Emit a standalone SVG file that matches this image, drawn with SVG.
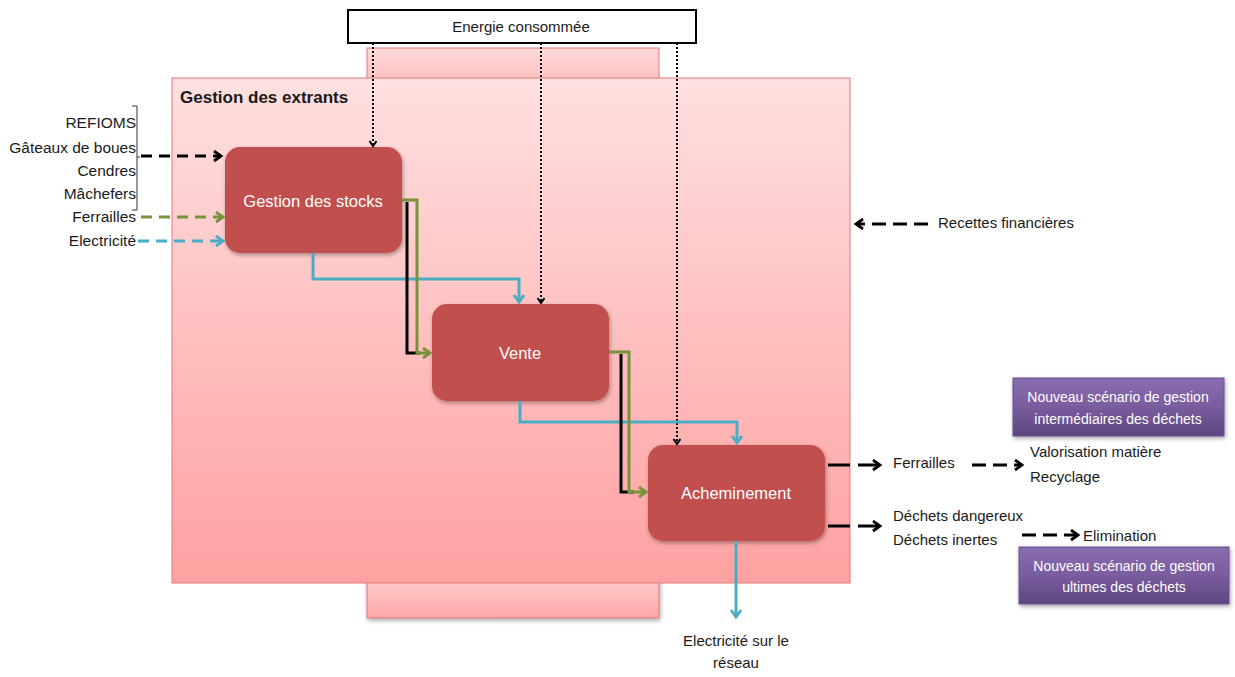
<svg xmlns="http://www.w3.org/2000/svg" width="1235" height="677" viewBox="0 0 1235 677">
<style>
text{font-family:"Liberation Sans",Arial,sans-serif;fill:#1a1a1a;font-size:15px}
.l{font-size:15.5px}
.w{fill:#fff;font-size:16.5px}
.pw{fill:#fff;font-size:14px}
.node{fill:#c0504d;filter:url(#sh)}
.dash{fill:none;stroke-width:3;stroke-dasharray:11 7}
.dot{fill:none;stroke:#000;stroke-width:2;stroke-dasharray:2 2}
.solid{fill:none;stroke-width:3}
.k{stroke:#000}.g{stroke:#77933c}.b{stroke:#4bacc6}
</style>
<defs>
<linearGradient id="pg" x1="0" y1="0" x2="0" y2="1"><stop offset="0" stop-color="#ffe0e0"/><stop offset="1" stop-color="#ffa1a1"/></linearGradient>
<linearGradient id="pgt" x1="0" y1="0" x2="0" y2="1"><stop offset="0" stop-color="#ffd8d8"/><stop offset="1" stop-color="#ffbcbc"/></linearGradient>
<linearGradient id="pgb" x1="0" y1="0" x2="0" y2="1"><stop offset="0" stop-color="#ffd4d4"/><stop offset="1" stop-color="#ffa6a6"/></linearGradient>
<linearGradient id="vg" x1="0" y1="0" x2="0" y2="1"><stop offset="0" stop-color="#8a6db0"/><stop offset="0.5" stop-color="#7a5c9e"/><stop offset="1" stop-color="#5e4580"/></linearGradient>
<filter id="sh" x="-10%" y="-10%" width="130%" height="140%"><feDropShadow dx="1" dy="2" stdDeviation="2" flood-color="#000" flood-opacity="0.35"/></filter>
<marker id="ak" markerUnits="userSpaceOnUse" markerWidth="14" markerHeight="14" refX="10" refY="6" orient="auto"><path d="M3,1 L10,6 L3,11" fill="none" stroke="#000" stroke-width="2.8"/></marker>
<marker id="ag" markerUnits="userSpaceOnUse" markerWidth="14" markerHeight="14" refX="10" refY="6" orient="auto"><path d="M3,1 L10,6 L3,11" fill="none" stroke="#77933c" stroke-width="2.8"/></marker>
<marker id="ab" markerUnits="userSpaceOnUse" markerWidth="14" markerHeight="14" refX="10" refY="6" orient="auto"><path d="M3,1 L10,6 L3,11" fill="none" stroke="#4bacc6" stroke-width="2.8"/></marker>
<marker id="ad" markerUnits="userSpaceOnUse" markerWidth="10" markerHeight="10" refX="7" refY="4" orient="auto"><path d="M2,0.5 L7,4 L2,7.5" fill="none" stroke="#000" stroke-width="2"/></marker>
</defs>

<g id="back-panel">
<rect x="367" y="48" width="292" height="40" fill="url(#pgt)" stroke="#e07878" stroke-width="1"/>
<rect x="367" y="573" width="292" height="45" fill="url(#pgb)" stroke="#e07878" stroke-width="1" filter="url(#sh)"/>
</g>
<g id="gestion-extrants">
<rect x="172" y="78" width="678" height="505" fill="url(#pg)" stroke="#e07878" stroke-width="1"/>
<text x="180" y="103" style="font-weight:bold;font-size:17px">Gestion des extrants</text>
</g>

<g id="energie">
<rect x="348" y="10" width="348" height="33" fill="#fff" stroke="#000" stroke-width="2"/>
<text x="521" y="32" text-anchor="middle">Energie consommée</text>
</g>

<g id="inputs">
<text class="l" x="136" y="128" text-anchor="end">REFIOMS</text>
<text class="l" x="136" y="153" text-anchor="end">Gâteaux de boues</text>
<text class="l" x="136" y="176" text-anchor="end">Cendres</text>
<text class="l" x="136" y="199" text-anchor="end">Mâchefers</text>
<text class="l" x="136" y="222" text-anchor="end">Ferrailles</text>
<text class="l" x="136" y="246" text-anchor="end">Electricité</text>
<path d="M132,106 H137 V210 H132 M137,157 H140" fill="none" stroke="#333" stroke-width="1"/>
</g>

<g id="node-stocks">
<rect class="node" x="225" y="147" width="177" height="106" rx="15"/>
<text class="w" x="313" y="207" text-anchor="middle">Gestion des stocks</text>
</g>
<g id="node-vente">
<rect class="node" x="432" y="304" width="177" height="97" rx="15"/>
<text class="w" x="520" y="359" text-anchor="middle">Vente</text>
</g>
<g id="node-acheminement">
<rect class="node" x="648" y="445" width="177" height="96" rx="15"/>
<text class="w" x="736" y="499" text-anchor="middle">Acheminement</text>
</g>

<g id="connectors">
<path class="dash k" d="M141,156 H221" marker-end="url(#ak)"/>
<path class="dash g" d="M141,217 H223" marker-end="url(#ag)"/>
<path class="dash b" d="M138,241 H223" marker-end="url(#ab)"/>

<path class="dot" d="M373,43 V146" marker-end="url(#ad)"/>
<path class="dot" d="M541,43 V303" marker-end="url(#ad)"/>
<path class="dot" d="M677,43 V444" marker-end="url(#ad)"/>

<path class="solid b" d="M313,253 V279 H519 V302" marker-end="url(#ab)"/>
<path class="solid k" d="M407,202 V353 H420"/>
<path class="solid g" d="M402,200 H417 V353 H430" marker-end="url(#ag)"/>

<path class="solid b" d="M520,401 V422 H737 V443" marker-end="url(#ab)"/>
<path class="solid k" d="M621,354 V492 H634"/>
<path class="solid g" d="M609,352 H629 V492 H646" marker-end="url(#ag)"/>

<path class="solid b" d="M736,541 V617" marker-end="url(#ab)"/>

<path class="dash k" d="M928,224 H856" style="stroke-dasharray:14 7" marker-end="url(#ak)"/>
<path class="dash k" d="M828,465 H880" style="stroke-dasharray:22 8" marker-end="url(#ak)"/>
<path class="dash k" d="M972,465 H1022" style="stroke-dasharray:14 7" marker-end="url(#ak)"/>
<path class="dash k" d="M828,526 H880" style="stroke-dasharray:22 8" marker-end="url(#ak)"/>
<path class="dash k" d="M1022,535 H1078" style="stroke-dasharray:14 7" marker-end="url(#ak)"/>
</g>

<g id="outputs">
<text x="938" y="228">Recettes financières</text>
<text x="893" y="468">Ferrailles</text>
<text x="1030" y="457">Valorisation matière</text>
<text x="1030" y="482">Recyclage</text>
<text x="893" y="521">Déchets dangereux</text>
<text x="893" y="545">Déchets inertes</text>
<text x="1083" y="541">Elimination</text>
<text x="736" y="646" text-anchor="middle">Electricité sur le</text>
<text x="736" y="668" text-anchor="middle">réseau</text>
</g>

<g id="scenario-intermediaire">
<rect x="1013" y="378" width="211" height="58" fill="url(#vg)" stroke="#6a4f8c" stroke-width="1" filter="url(#sh)"/>
<text class="pw" x="1118" y="402" text-anchor="middle">Nouveau scénario de gestion</text>
<text class="pw" x="1118" y="424" text-anchor="middle">intermédiaires des déchets</text>
</g>
<g id="scenario-ultime">
<rect x="1019" y="547" width="210" height="57" fill="url(#vg)" stroke="#6a4f8c" stroke-width="1" filter="url(#sh)"/>
<text class="pw" x="1124" y="571" text-anchor="middle">Nouveau scénario de gestion</text>
<text class="pw" x="1124" y="592" text-anchor="middle">ultimes des déchets</text>
</g>
</svg>
